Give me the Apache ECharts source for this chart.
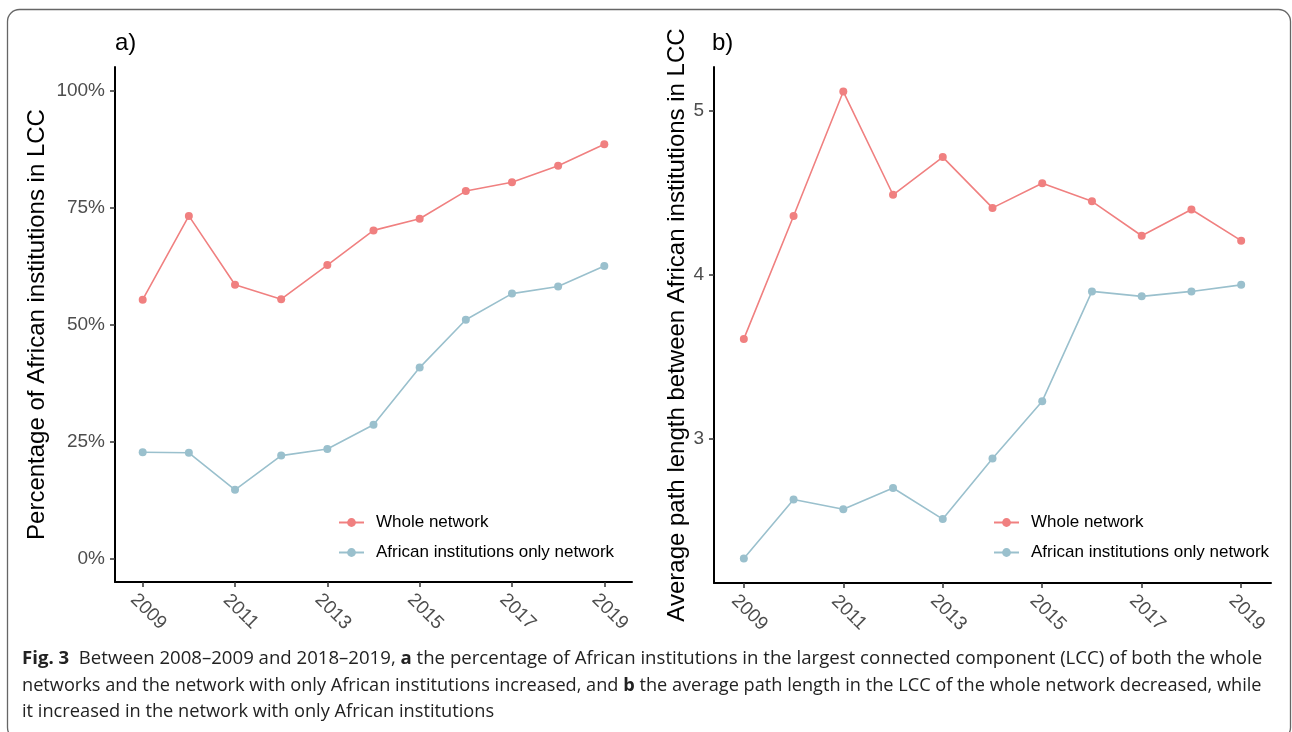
<!DOCTYPE html>
<html>
<head>
<meta charset="utf-8">
<script src="https://cdn.jsdelivr.net/npm/echarts@6/dist/echarts.min.js"></script>
<style>
html,body{margin:0;padding:0;background:#fff;}
#main{width:1292px;height:732px;}
</style>
</head>
<body>
<div id="main"></div>
<script>
// ---- data ----
var years = [2009, 2010, 2011, 2012, 2013, 2014, 2015, 2016, 2017, 2018, 2019];
var xTicks = [2009, 2011, 2013, 2015, 2017, 2019];
var seriesNames = ['Whole network', 'African institutions only network'];
// panel a: percentage of African institutions in LCC
var pctWhole   = [55.3, 73.2, 58.5, 55.4, 62.7, 70.1, 72.6, 78.5, 80.4, 83.9, 88.5];
var pctAfrican = [22.7, 22.6, 14.7, 22.0, 23.4, 28.6, 40.8, 51.0, 56.6, 58.1, 62.5];
var pctTicks = [0, 25, 50, 75, 100];
// panel b: average path length between African institutions in LCC
var aplWhole   = [3.61, 4.36, 5.12, 4.49, 4.72, 4.41, 4.56, 4.45, 4.24, 4.40, 4.21];
var aplAfrican = [2.27, 2.63, 2.57, 2.70, 2.51, 2.88, 3.23, 3.90, 3.87, 3.90, 3.94];
var aplTicks = [3, 4, 5];

var RED = '#F08080', BLUE = '#9AC0CD';
var FONT = '"Liberation Sans", Arial, sans-serif';
var CAPFONT = '"Open Sans", sans-serif';

function pairs(xs, ys) { return xs.map(function (x, i) { return [x, ys[i]]; }); }

function xAxis(idx) {
  return {
    type: 'value', gridIndex: idx, min: 2008.4, max: 2019.6,
    splitLine: { show: false },
    axisLine: { onZero: false, lineStyle: { color: '#000', width: 2 } },
    axisTick: { customValues: xTicks, length: 5, lineStyle: { color: '#333', width: 1.5 } },
    axisLabel: { customValues: xTicks, rotate: -45, align: 'center', verticalAlign: 'middle',
      margin: 24, padding: [0, 0, 0, 16], fontSize: 19, color: '#4d4d4d', fontFamily: FONT,
      formatter: function (v) { return String(v); } }
  };
}
function yAxis(idx, min, max, ticks, fmt, name, gap) {
  return {
    type: 'value', gridIndex: idx, min: min, max: max,
    splitLine: { show: false },
    axisLine: { show: true, onZero: false, lineStyle: { color: '#000', width: 2 } },
    axisTick: { show: true, customValues: ticks, length: 5, lineStyle: { color: '#333', width: 1.5 } },
    axisLabel: { customValues: ticks, margin: 10, fontSize: 19, color: '#4d4d4d', fontFamily: FONT, formatter: fmt },
    name: name, nameLocation: 'middle', nameGap: gap,
    nameTextStyle: { fontSize: 24, color: '#000', fontFamily: FONT }
  };
}
function line(name, xi, data, color) {
  return {
    name: name, type: 'line', xAxisIndex: xi, yAxisIndex: xi,
    data: data, symbol: 'circle', symbolSize: 8, showSymbol: true,
    lineStyle: { color: color, width: 1.6 }, itemStyle: { color: color },
    emphasis: { disabled: true }, animation: false
  };
}
function legend(left) {
  return {
    data: seriesNames, orient: 'vertical', left: left, top: 514, padding: 0,
    itemWidth: 25, itemHeight: 11, itemGap: 13,
    textStyle: { fontSize: 17, color: '#000', fontFamily: FONT, padding: [0, 0, 0, 7], lineHeight: 17 },
    selectedMode: false
  };
}
function caption(y, text, sx) {
  return { type: 'text', x: 22, y: y, scaleX: sx, style: {
    text: text, fontSize: 18.6, fill: '#222', fontFamily: CAPFONT, verticalAlign: 'top',
    rich: { b: { fontWeight: 'bold', fontSize: 18.6, fill: '#222', fontFamily: CAPFONT } } } };
}

var chart = echarts.init(document.getElementById('main'), null, { renderer: 'canvas' });
chart.setOption({
  backgroundColor: '#fff',
  animation: false,
  textStyle: { fontFamily: FONT },
  grid: [
    { left: 115, top: 67, width: 517, height: 515 },
    { left: 714, top: 67, width: 557, height: 516 }
  ],
  xAxis: [xAxis(0), xAxis(1)],
  yAxis: [
    yAxis(0, -5, 105, pctTicks, function (v) { return v + '%'; }, 'Percentage of African institutions in LCC', 66),
    yAxis(1, 2.12, 5.27, aplTicks, function (v) { return String(v); }, 'Average path length between African institutions in LCC', 24)
  ],
  legend: [legend(338), legend(993)],
  series: [
    line(seriesNames[0], 0, pairs(years, pctWhole), RED),
    line(seriesNames[1], 0, pairs(years, pctAfrican), BLUE),
    line(seriesNames[0], 1, pairs(years, aplWhole), RED),
    line(seriesNames[1], 1, pairs(years, aplAfrican), BLUE)
  ],
  graphic: [
    { type: 'rect', silent: true, z: -1,
      shape: { x: 7.5, y: 9.5, width: 1283, height: 730, r: 12 },
      style: { fill: 'none', stroke: '#666', lineWidth: 1.3 } },
    { type: 'text', left: 115, top: 31, style: { text: 'a)', fontSize: 24, fill: '#000', fontFamily: FONT } },
    { type: 'text', left: 712, top: 31, style: { text: 'b)', fontSize: 24, fill: '#000', fontFamily: FONT } },
    caption(649, '{b|Fig. 3}  Between 2008–2009 and 2018–2019, {b|a} the percentage of African institutions in the largest connected component (LCC) of both the whole', 1),
    caption(676, 'networks and the network with only African institutions increased, and {b|b} the average path length in the LCC of the whole network decreased, while', 0.977),
    caption(702, 'it increased in the network with only African institutions', 0.98)
  ]
});
</script>
</body>
</html>
